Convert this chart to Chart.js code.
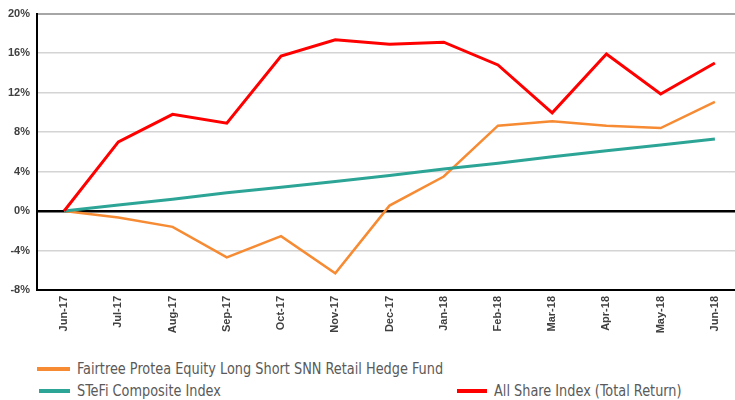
<!DOCTYPE html>
<html><head><meta charset="utf-8">
<script src="https://cdn.jsdelivr.net/npm/chart.js@4"></script>
<style>
html,body{margin:0;padding:0;background:#fff;width:735px;height:400px;overflow:hidden;position:relative;}
#wrap{position:absolute;left:0;top:0;width:742px;height:340px;}
.leg{position:absolute;font-family:"DejaVu Sans Condensed","DejaVu Sans",sans-serif;font-stretch:condensed;font-size:15px;color:#5a5a5a;white-space:nowrap;line-height:20px;transform:scaleX(0.955);transform-origin:0 50%;}
.sw{position:absolute;height:4px;}
</style></head><body>
<div id="wrap"><canvas id="c"></canvas></div>
<div class="sw" style="left:37px;top:367px;width:33px;background:#F68B33"></div>
<div class="leg" style="left:77px;top:359px">Fairtree Protea Equity Long Short SNN Retail Hedge Fund</div>
<div class="sw" style="left:39px;top:389px;width:31px;background:#2CA596"></div>
<div class="leg" style="left:77px;top:381px">STeFi Composite Index</div>
<div class="sw" style="left:457px;top:389px;width:30px;background:#FF0000"></div>
<div class="leg" style="left:494px;top:381px">All Share Index (Total Return)</div>
<script>
const categories = ["Jun-17","Jul-17","Aug-17","Sep-17","Oct-17","Nov-17","Dec-17","Jan-18","Feb-18","Mar-18","Apr-18","May-18","Jun-18"];
const fundValues = [0,-0.65,-1.6,-4.7,-2.55,-6.3,0.55,3.5,8.65,9.1,8.65,8.4,11.05];
const stefiValues = [0,0.6,1.2,1.85,2.4,3.0,3.6,4.25,4.85,5.5,6.1,6.7,7.3];
const allShareValues = [0,7.0,9.8,8.9,15.7,17.35,16.9,17.1,14.8,9.95,15.9,11.85,15.0];
const yTicks = [-8,-4,0,4,8,12,16,20];

new Chart(document.getElementById('c'), {
  type: 'line',
  data: {
    labels: categories,
    datasets: [
      {label:'All Share Index (Total Return)', data: allShareValues, borderColor:'#FF0000', borderWidth:3, pointRadius:0, tension:0},
      {label:'STeFi Composite Index', data: stefiValues, borderColor:'#2CA596', borderWidth:3, pointRadius:0, tension:0},
      {label:'Fairtree Protea Equity Long Short SNN Retail Hedge Fund', data: fundValues, borderColor:'#F68B33', borderWidth:2.5, pointRadius:0, tension:0}
    ]
  },
  options: {
    responsive: true, maintainAspectRatio: false, animation: false,
    layout: {padding: {top: 12, right: 0, left: 0, bottom: 0}},
    plugins: {legend: {display: false}, tooltip: {enabled: false}},
    scales: {
      x: {
        offset: true,
        grid: {display: false, drawTicks: false},
        border: {display: true, color: '#000', width: 2},
        ticks: {minRotation: 90, maxRotation: 90, color: '#404040', padding: 6,
          font: {family: 'Liberation Sans', size: 11, weight: 'bold'}},
        afterFit: s => { s.height = 50; }
      },
      y: {
        min: -8, max: 20,
        afterBuildTicks: s => { s.ticks = yTicks.map(v => ({value: v})); },
        grid: {
          drawTicks: false,
          color: c => c.tick.value === 0 ? '#000' : (c.tick.value === 20 ? '#a6a6a6' : '#d4d4d4'),
          lineWidth: c => c.tick.value === 0 ? 2.5 : (c.tick.value === 20 ? 2 : 1.5)
        },
        border: {display: true, color: '#000', width: 2},
        ticks: {color: '#404040', padding: 7, callback: v => v + '%',
          font: {family: 'Liberation Sans', size: 11, weight: 'bold'}},
        afterFit: s => { s.width = 37; }
      }
    }
  }
});
</script>
</body></html>
